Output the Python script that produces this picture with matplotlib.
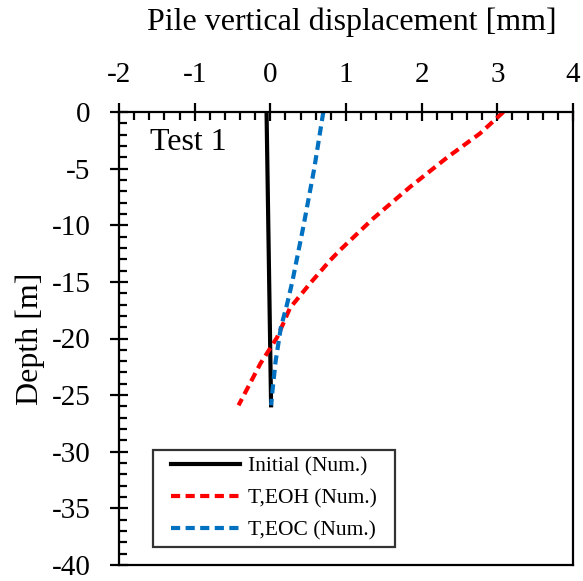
import matplotlib
matplotlib.use("Agg")
import numpy as np
import matplotlib.pyplot as plt
from matplotlib.ticker import MultipleLocator
from matplotlib.legend_handler import HandlerLine2D
from matplotlib.lines import Line2D

plt.rcParams['font.family'] = ['Liberation Serif', 'DejaVu Serif']
plt.rcParams['axes.unicode_minus'] = False

# Data
depth_initial = [0, -25.9]
disp_initial = [-0.05, 0.01]

depth_eoh = [0, -1.9, -4.0, -6.6, -9.4, -12.2, -13.1, -15.1, -17.3, -19.9, -22.2, -25.9]
disp_eoh = [3.08, 2.77, 2.34, 1.85, 1.36, 0.92, 0.79, 0.53, 0.26, 0.09, -0.13, -0.42]

depth_eoc = [0, -5.0, -10.0, -15.0, -17.0, -19.0, -22.0, -24.5, -25.9]
disp_eoc = [0.70, 0.58, 0.44, 0.29, 0.22, 0.14, 0.07, 0.03, 0.01]

labels = ['Initial (Num.)', 'T,EOH (Num.)', 'T,EOC (Num.)']


class OffsetLineHandler(HandlerLine2D):
    def get_xdata(self, legend, xdescent, ydescent, width, height, fontsize):
        x0 = -xdescent + 8.4
        x1 = -xdescent + width
        xdata = np.array([x0, x1])
        return xdata, np.array([(x0 + x1) / 2])


fig = plt.figure(figsize=(5.83, 5.81), dpi=100)
ax = fig.add_axes([119/583, 1-565/581, (573-119)/583, (565-112)/581])

ax.plot(disp_initial, depth_initial, color='black', lw=3, label=labels[0])
ax.plot(disp_eoh, depth_eoh, color='#ff0000', lw=3, ls=(0, (2.2, 1.3)), label=labels[1])
ax.plot(disp_eoc, depth_eoc, color='#0070c0', lw=3, ls=(0, (2.2, 1.3)), label=labels[2])

ax.set_xlim(-2, 4)
ax.set_ylim(-40, 0)
ax.xaxis.set_major_locator(MultipleLocator(1))
ax.xaxis.set_minor_locator(MultipleLocator(0.2))
ax.yaxis.set_major_locator(MultipleLocator(5))
ax.yaxis.set_minor_locator(MultipleLocator(1))
ax.xaxis.tick_top()
ax.xaxis.set_label_position('top')
ax.tick_params(axis='both', which='major', direction='inout', length=13, width=1.6, labelsize=21)
ax.tick_params(axis='y', which='major', pad=14)
ax.tick_params(axis='x', which='major', pad=11)
ax.tick_params(axis='both', which='minor', direction='in', length=5.5, width=1.6)
for s in ax.spines.values():
    s.set_linewidth(1.6)

ax.set_xlabel('Pile vertical displacement [mm]', fontsize=23)
ax.xaxis.set_label_coords(0.513, 1.166)
ax.xaxis.label.set_va('bottom')
ax.set_ylabel('Depth [m]', fontsize=23, labelpad=5)

ax.text(0.068, 0.965, 'Test 1', transform=ax.transAxes, fontsize=23, va='top', ha='left')

leg = ax.legend(loc='lower left', bbox_to_anchor=(0.0749, 0.0397, 0.533, 0.2), mode='expand',
                fontsize=15.5, frameon=True, fancybox=False, edgecolor='black',
                handlelength=3.74, handletextpad=0.39, borderpad=0.3, labelspacing=0.55,
                borderaxespad=0, handler_map={Line2D: OffsetLineHandler()})
leg.get_frame().set_linewidth(1.6)

fig.savefig('out.png', dpi=100)
